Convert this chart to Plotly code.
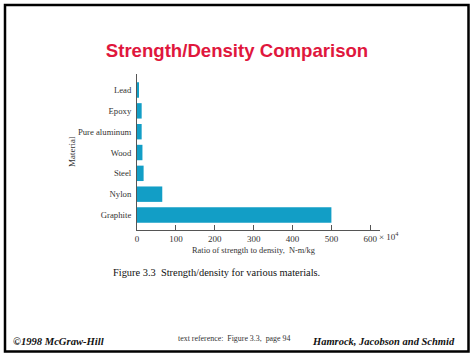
import plotly.graph_objects as go

materials = ["Graphite", "Nylon", "Steel", "Wood", "Pure aluminum", "Epoxy", "Lead"]
ratio_x1e4 = [500, 65, 17, 14, 12, 12, 4]
x_tick_vals = [0, 100, 200, 300, 400, 500, 600]
x_tick_text = ["0", "100", "200", "300", "400", "500", "600"]

W, H = 474, 355
L, R, T, B = 137, 380, 74, 230

def px(x):
    return (x - L) / (R - L)

def py(y):
    return (B - y) / (B - T)

serif = "Liberation Serif"
fig = go.Figure(go.Bar(
    x=ratio_x1e4, y=materials, orientation="h",
    marker=dict(color="#129ec6", line=dict(width=0)),
    width=0.74,
))

fig.update_layout(
    width=W, height=H,
    margin=dict(l=L, r=W - R, t=T, b=H - B),
    paper_bgcolor="white", plot_bgcolor="white",
    showlegend=False,
    title=dict(text="<b>Strength/Density Comparison</b>", x=0.5, xanchor="center",
               y=1 - 50 / H, yanchor="middle", yref="container",
               font=dict(family="Liberation Sans", size=18.6, color="#e0173d")),
    xaxis=dict(range=[0, 625], tickvals=x_tick_vals, ticktext=x_tick_text,
               ticks="inside", ticklen=5, tickcolor="#555", showgrid=False, zeroline=False,
               showline=True, linecolor="#555", linewidth=1,
               tickfont=dict(family=serif, size=9, color="#333")),
    yaxis=dict(categoryorder="array", categoryarray=materials, range=[-0.72, 6.77],
               showgrid=False, zeroline=False, showline=True, linecolor="#555", linewidth=1,
               ticks="", ticklabelstandoff=3,
               tickfont=dict(family=serif, size=8.7, color="#333")),
    font=dict(family=serif),
)

ann = [
    dict(x=px(377), y=py(236), text="× 10<sup>4</sup>", xanchor="left", yanchor="middle",
         font=dict(family=serif, size=9, color="#333")),
    dict(x=px(254), y=py(250), text="Ratio of strength to density,  N-m/kg", xanchor="center", yanchor="middle",
         font=dict(family=serif, size=8.4, color="#333")),
    dict(x=px(72), y=py(152), text="Material", textangle=-90, xanchor="center", yanchor="middle",
         font=dict(family=serif, size=9, color="#333")),
    dict(x=px(111), y=py(272), text="Figure 3.3  Strength/density for various materials.", xanchor="left", yanchor="middle",
         font=dict(family=serif, size=10.4, color="#111")),
    dict(x=px(11), y=py(341), text="<b><i>©1998 McGraw-Hill</i></b>", xanchor="left", yanchor="middle",
         font=dict(family=serif, size=10.6, color="#111")),
    dict(x=px(176), y=py(338), text="text reference:  Figure 3.3,  page 94", xanchor="left", yanchor="middle",
         font=dict(family=serif, size=7.9, color="#333")),
    dict(x=px(457), y=py(341), text="<b><i>Hamrock, Jacobson and Schmid</i></b>", xanchor="right", yanchor="middle",
         font=dict(family=serif, size=10.5, color="#111")),
]
for a in ann:
    a.update(xref="paper", yref="paper", showarrow=False)
fig.update_layout(annotations=ann)

fig.add_shape(type="rect", xref="paper", yref="paper",
              x0=px(5), x1=px(468.5), y0=py(5), y1=py(351.5),
              line=dict(color="black", width=2.5), layer="above")

fig.write_html("out.html", config={"displayModeBar": False},
               post_script="document.body.style.margin='0';document.body.style.overflow='hidden';")
